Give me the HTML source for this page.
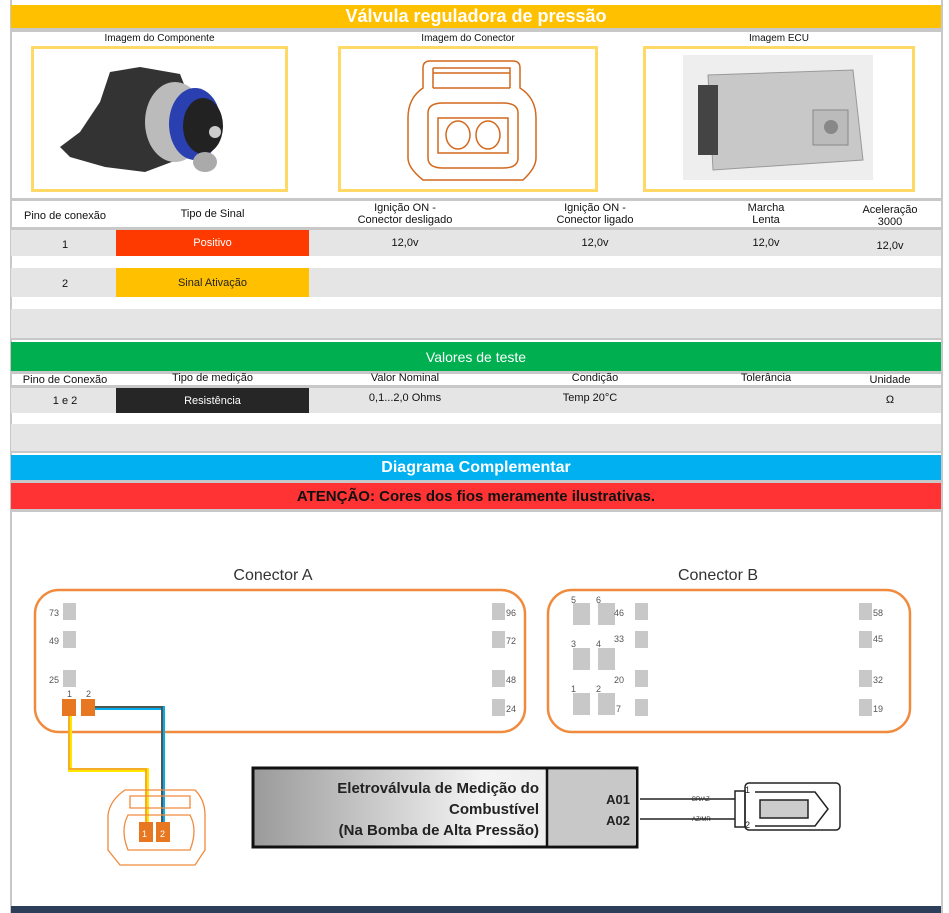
<!DOCTYPE html>
<html><head><meta charset="utf-8"><style>
body{margin:0;width:949px;height:913px;background:#fff;position:relative;overflow:hidden;font-family:"Liberation Sans Narrow","Liberation Sans",sans-serif;}
div{position:absolute;box-sizing:border-box}
.t{font-size:11px;color:#111;text-align:center;line-height:12px}
.c{display:flex;align-items:center;justify-content:center}
</style></head><body>
<div style="left:10px;top:0;width:933px;height:913px;border-left:2px solid #c8c8c8;border-right:2px solid #c8c8c8"></div>
<div class="c" style="left:11px;top:5px;width:930px;height:23px;background:#ffc000;color:#fff;font-weight:bold;font-size:18px">Válvula reguladora de pressão</div>
<div style="left:11px;top:28px;width:930px;height:4px;background:#c8c8c8"></div>
<div class="t" style="left:31px;top:33px;width:257px;font-size:10px">Imagem do Componente</div>
<div class="t" style="left:338px;top:33px;width:260px;font-size:10px">Imagem do Conector</div>
<div class="t" style="left:643px;top:33px;width:272px;font-size:10px">Imagem ECU</div>
<div style="left:31px;top:46px;width:257px;height:146px;border:3px solid #ffd966"></div>
<div style="left:338px;top:46px;width:260px;height:146px;border:3px solid #ffd966"></div>
<div style="left:643px;top:46px;width:272px;height:146px;border:3px solid #ffd966"></div>
<!-- component image -->
<svg style="position:absolute;left:55px;top:62px" width="200" height="120" viewBox="0 0 200 120">
<path d="M5 85 L25 70 L45 40 L55 10 L85 5 L125 12 L140 50 L130 95 L90 110 L50 105 L15 95 Z" fill="#333"/>
<ellipse cx="120" cy="60" rx="30" ry="40" fill="#bbb"/>
<ellipse cx="140" cy="62" rx="26" ry="36" fill="#2a3fb0"/>
<ellipse cx="148" cy="64" rx="20" ry="28" fill="#222"/>
<circle cx="160" cy="70" r="6" fill="#ccc"/>
<ellipse cx="150" cy="100" rx="12" ry="10" fill="#aaa"/>
</svg>
<!-- connector image -->
<svg style="position:absolute;left:398px;top:58px" width="150" height="130" viewBox="0 0 150 130" fill="none" stroke="#d2691e" stroke-width="1.5">
<path d="M25 10 Q25 3 32 3 L115 3 Q122 3 122 10 L122 30 Q138 40 138 60 L138 100 Q138 110 125 122 L25 122 Q10 110 10 100 L10 60 Q10 40 25 30 Z"/>
<path d="M35 10 L112 10 L112 30 M35 10 L35 30 M35 15 L112 15 M35 30 L112 30"/>
<path d="M30 55 Q30 45 45 45 L105 45 Q120 45 120 55 L120 100 Q120 110 105 110 L45 110 Q30 110 30 100 Z"/>
<path d="M40 60 L110 60 L110 95 L40 95 Z"/>
<ellipse cx="60" cy="77" rx="12" ry="14"/><ellipse cx="90" cy="77" rx="12" ry="14"/>
</svg>
<!-- ECU -->
<svg style="position:absolute;left:683px;top:55px" width="190" height="130" viewBox="0 0 190 130">
<rect x="0" y="0" width="190" height="125" fill="#eee"/>
<path d="M25 20 L170 15 L180 105 L30 115 Z" fill="#c8c8c8" stroke="#999"/>
<rect x="15" y="30" width="20" height="70" fill="#444"/>
<rect x="130" y="55" width="35" height="35" fill="#bbb" stroke="#888"/>
<circle cx="148" cy="72" r="7" fill="#888"/>
</svg>
<!-- table header -->
<div style="left:11px;top:198px;width:930px;height:32px;border-top:3px solid #c8c8c8;border-bottom:3px solid #c8c8c8"></div>
<div class="t" style="left:12px;top:210px;width:106px">Pino de conexão</div>
<div class="t" style="left:116px;top:208px;width:193px">Tipo de Sinal</div>
<div class="t" style="left:330px;top:202px;width:150px">Ignição ON -<br>Conector desligado</div>
<div class="t" style="left:520px;top:202px;width:150px">Ignição ON -<br>Conector ligado</div>
<div class="t" style="left:716px;top:202px;width:100px">Marcha<br>Lenta</div>
<div class="t" style="left:850px;top:204px;width:80px">Aceleração<br>3000</div>
<!-- row1 -->
<div style="left:11px;top:230px;width:930px;height:26px;background:#e5e5e5"></div>
<div class="c" style="left:116px;top:230px;width:193px;height:26px;background:#ff3a00;color:#fff;font-size:11px">Positivo</div>
<div class="t" style="left:30px;top:239px;width:70px">1</div>
<div class="t" style="left:355px;top:237px;width:100px">12,0v</div>
<div class="t" style="left:545px;top:237px;width:100px">12,0v</div>
<div class="t" style="left:716px;top:237px;width:100px">12,0v</div>
<div class="t" style="left:850px;top:240px;width:80px">12,0v</div>
<!-- row2 -->
<div style="left:11px;top:268px;width:930px;height:29px;background:#e5e5e5"></div>
<div class="c" style="left:116px;top:268px;width:193px;height:29px;background:#ffc000;color:#222;font-size:11px">Sinal Ativação</div>
<div class="t" style="left:30px;top:278px;width:70px">2</div>
<div style="left:11px;top:309px;width:930px;height:31px;background:#e5e5e5;border-bottom:2px solid #c8c8c8"></div>
<!-- green -->
<div class="c" style="left:11px;top:342px;width:930px;height:29px;background:#00b050;color:#fff;font-size:14px">Valores de teste</div>
<div style="left:11px;top:371px;width:930px;height:3px;background:#c8c8c8"></div>
<div class="t" style="left:12px;top:374px;width:106px">Pino de Conexão</div>
<div class="t" style="left:116px;top:372px;width:193px">Tipo de medição</div>
<div class="t" style="left:355px;top:372px;width:100px">Valor Nominal</div>
<div class="t" style="left:545px;top:372px;width:100px">Condição</div>
<div class="t" style="left:716px;top:372px;width:100px">Tolerância</div>
<div class="t" style="left:850px;top:374px;width:80px">Unidade</div>
<div style="left:11px;top:385px;width:930px;height:3px;background:#c8c8c8"></div>
<div style="left:11px;top:388px;width:930px;height:25px;background:#e5e5e5"></div>
<div class="c" style="left:116px;top:388px;width:193px;height:25px;background:#262626;color:#fff;font-size:11px">Resistência</div>
<div class="t" style="left:30px;top:395px;width:70px">1 e 2</div>
<div class="t" style="left:355px;top:392px;width:100px">0,1...2,0 Ohms</div>
<div class="t" style="left:540px;top:392px;width:100px">Temp 20°C</div>
<div class="t" style="left:850px;top:394px;width:80px">Ω</div>
<div style="left:11px;top:424px;width:930px;height:29px;background:#e5e5e5;border-bottom:2px solid #c8c8c8"></div>
<!-- blue / red -->
<div class="c" style="left:11px;top:455px;width:930px;height:25px;background:#00b0f0;color:#fff;font-weight:bold;font-size:16px">Diagrama Complementar</div>
<div style="left:11px;top:480px;width:930px;height:3px;background:#c8c8c8"></div>
<div class="c" style="left:11px;top:483px;width:930px;height:26px;background:#ff3333;color:#111;font-weight:bold;font-size:15px">ATENÇÃO: Cores dos fios meramente ilustrativas.</div>
<div style="left:11px;top:509px;width:930px;height:3px;background:#c8c8c8"></div>
<div style="left:11px;top:906px;width:930px;height:7px;background:#2c3e5a"></div>
<!-- diagram -->
<svg style="position:absolute;left:0;top:0" width="949" height="913" font-family="Liberation Sans Narrow, Liberation Sans, sans-serif">
<text x="273" y="580" font-size="16" text-anchor="middle" fill="#333">Conector A</text>
<text x="718" y="580" font-size="16" text-anchor="middle" fill="#333">Conector B</text>
<rect x="35" y="590" width="490" height="142" rx="24" fill="none" stroke="#f08a3c" stroke-width="2.5"/>
<rect x="548" y="590" width="362" height="142" rx="24" fill="none" stroke="#f08a3c" stroke-width="2.5"/>
<g fill="#c8c8c8">
<rect x="63" y="603" width="13" height="17"/><rect x="63" y="631" width="13" height="17"/><rect x="63" y="670" width="13" height="17"/>
<rect x="492" y="603" width="13" height="17"/><rect x="492" y="631" width="13" height="17"/><rect x="492" y="670" width="13" height="17"/><rect x="492" y="699" width="13" height="17"/>
<rect x="573" y="603" width="17" height="22"/><rect x="598" y="603" width="17" height="22"/>
<rect x="573" y="648" width="17" height="22"/><rect x="598" y="648" width="17" height="22"/>
<rect x="573" y="693" width="17" height="22"/><rect x="598" y="693" width="17" height="22"/>
<rect x="635" y="603" width="13" height="17"/><rect x="635" y="631" width="13" height="17"/><rect x="635" y="670" width="13" height="17"/><rect x="635" y="699" width="13" height="17"/>
<rect x="859" y="603" width="13" height="17"/><rect x="859" y="631" width="13" height="17"/><rect x="859" y="670" width="13" height="17"/><rect x="859" y="699" width="13" height="17"/>
</g>
<g font-size="9" fill="#555">
<text x="49" y="616">73</text><text x="49" y="644">49</text><text x="49" y="683">25</text>
<text x="506" y="616">96</text><text x="506" y="644">72</text><text x="506" y="683">48</text><text x="506" y="712">24</text>
<text x="571" y="603">5</text><text x="596" y="603">6</text><text x="571" y="647">3</text><text x="596" y="647">4</text><text x="571" y="692">1</text><text x="596" y="692">2</text>
<text x="614" y="616">46</text><text x="614" y="642">33</text><text x="614" y="683">20</text><text x="616" y="712">7</text>
<text x="873" y="616">58</text><text x="873" y="642">45</text><text x="873" y="683">32</text><text x="873" y="712">19</text>
<text x="67" y="697">1</text><text x="86" y="697">2</text>
</g>
<rect x="62" y="699" width="14" height="17" fill="#e87722"/><rect x="81" y="699" width="14" height="17" fill="#e87722"/>
<polyline points="70,716 70,770 147,770 147,830" fill="none" stroke="#ffe600" stroke-width="4"/>
<polyline points="69,716 69,769 146,769 146,830" fill="none" stroke="#f08a3c" stroke-width="1.2"/>
<polyline points="95,708 163,708 163,830" fill="none" stroke="#00aeef" stroke-width="4"/>
<polyline points="95,707 162,707 162,830" fill="none" stroke="#6b3a1e" stroke-width="1.5"/>
<g fill="none" stroke="#f08a3c" stroke-width="1.3">
<path d="M125 790 L195 790 Q205 800 205 815 L205 850 L195 865 L120 865 L108 850 L108 815 Q110 800 125 790Z"/>
<path d="M130 796 L190 796 L190 808 L130 808 Z"/>
<path d="M128 815 Q120 830 128 850 L190 850 Q198 830 190 815 Z"/>
</g>
<rect x="139" y="822" width="14" height="20" fill="#e87722"/><rect x="156" y="822" width="14" height="20" fill="#e87722"/>
<text x="142" y="837" font-size="9" fill="#fff">1</text><text x="160" y="837" font-size="9" fill="#fff">2</text>
<defs><linearGradient id="g" x1="0" x2="1"><stop offset="0" stop-color="#9a9a9a"/><stop offset="0.6" stop-color="#f4f4f4"/><stop offset="1" stop-color="#e6e6e6"/></linearGradient></defs>
<rect x="253" y="768" width="384" height="79" fill="url(#g)" stroke="#111" stroke-width="3"/>
<rect x="548" y="770" width="88" height="75" fill="#c8c8c8"/>
<line x1="547" y1="768" x2="547" y2="847" stroke="#111" stroke-width="2.5"/>
<g font-size="15" font-weight="bold" fill="#222" text-anchor="end">
<text x="539" y="793">Eletroválvula de Medição do</text>
<text x="539" y="814">Combustível</text>
<text x="539" y="835">(Na Bomba de Alta Pressão)</text>
</g>
<text x="630" y="804" font-size="13" font-weight="bold" fill="#222" text-anchor="end">A01</text>
<text x="630" y="825" font-size="13" font-weight="bold" fill="#222" text-anchor="end">A02</text>
<g stroke="#222" stroke-width="1.5" fill="none">
<line x1="640" y1="799" x2="735" y2="799"/><line x1="640" y1="819" x2="735" y2="819"/>
<rect x="745" y="783" width="95" height="47" rx="4"/>
<rect x="735" y="791" width="10" height="36"/>
<path d="M755 792 L815 792 L828 809 L815 826 L755 826"/>
<rect x="760" y="800" width="48" height="18" fill="#ccc"/>
</g>
<text x="692" y="801" font-size="6" fill="#222">BR/AZ</text><text x="692" y="821" font-size="6" fill="#222">AZ/MR</text>
<text x="745" y="793" font-size="9" fill="#222">1</text><text x="745" y="828" font-size="9" fill="#222">2</text>
</svg>
</body></html>
